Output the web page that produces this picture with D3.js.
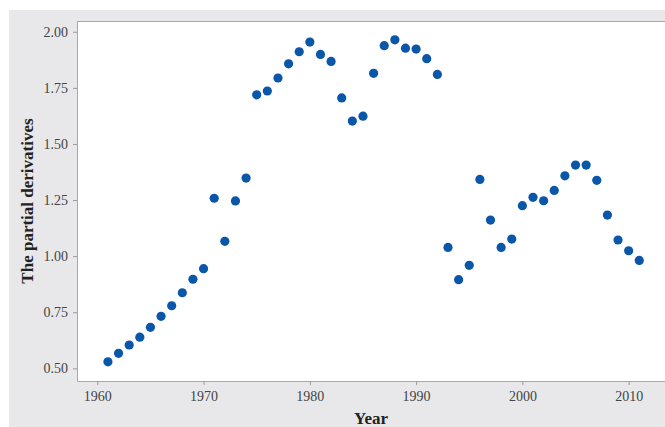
<!DOCTYPE html>
<html>
<head>
<meta charset="utf-8">
<script src="https://cdn.jsdelivr.net/npm/d3@7"></script>
<style>
  body { margin: 0; background: #fff; }
  .tick text { font-family: "Liberation Serif", "DejaVu Serif", serif; font-size: 14px; fill: #444; }
  .tick line { stroke: #9a9a9a; }
  .domain { stroke: #a8a8a8; }
</style>
</head>
<body>
<svg id="chart"></svg>
<script>
// years on the x axis
const years = [1961, 1962, 1963, 1964, 1965, 1966, 1967, 1968, 1969, 1970,
  1971, 1972, 1973, 1974, 1975, 1976, 1977, 1978, 1979, 1980,
  1981, 1982, 1983, 1984, 1985, 1986, 1987, 1988, 1989, 1990,
  1991, 1992, 1993, 1994, 1995, 1996, 1997, 1998, 1999, 2000,
  2001, 2002, 2003, 2004, 2005, 2006, 2007, 2008, 2009, 2010, 2011];

// partial derivative per year
const derivs = [0.529, 0.567, 0.604, 0.639, 0.683, 0.732, 0.779, 0.837, 0.897, 0.944,
  1.258, 1.066, 1.246, 1.348, 1.719, 1.736, 1.794, 1.857, 1.911, 1.954,
  1.899, 1.868, 1.705, 1.602, 1.624, 1.815, 1.938, 1.964, 1.927, 1.923,
  1.880, 1.810, 1.039, 0.895, 0.959, 1.342, 1.161, 1.039, 1.076, 1.225,
  1.262, 1.247, 1.293, 1.358, 1.406, 1.406, 1.338, 1.183, 1.072, 1.024, 0.981];

const xTicks = [1960, 1970, 1980, 1990, 2000, 2010];
const yTicks = [0.50, 0.75, 1.00, 1.25, 1.50, 1.75, 2.00];

const data = years.map((y, i) => ({ year: y, value: derivs[i] }));

const W = 665, H = 427;
const margin = { top: 21, right: 0, bottom: 46, left: 77 };
const width = W - margin.left - margin.right;
const height = H - margin.top - margin.bottom;

const svg = d3.select('#chart')
  .attr('width', W)
  .attr('height', H);

// grey panel behind everything
svg.append('rect')
  .attr('x', 9).attr('y', 10)
  .attr('width', W - 9).attr('height', H - 10)
  .attr('fill', '#e8e8ea');

const chart = svg.append('g')
  .attr('transform', `translate(${margin.left},${margin.top})`);

chart.append('rect')
  .attr('width', width)
  .attr('height', height)
  .attr('fill', '#fff');

// top border
chart.append('line')
  .attr('x1', 0).attr('x2', width)
  .attr('y1', 0.5).attr('y2', 0.5)
  .attr('stroke', '#a8a8a8');

const xScale = d3.scaleLinear()
  .domain([1958.09, 2013.42])
  .range([0, width]);

const yScale = d3.scaleLinear()
  .domain([0.4436, 2.048])
  .range([height, 0]);

const xAxis = d3.axisBottom(xScale)
  .tickValues(xTicks)
  .tickFormat(d3.format('d'))
  .tickSize(4)
  .tickSizeOuter(0)
  .tickPadding(6);

const yAxis = d3.axisLeft(yScale)
  .tickValues(yTicks)
  .tickFormat(d3.format('.2f'))
  .tickSize(4)
  .tickSizeOuter(0)
  .tickPadding(5);

chart.append('g')
  .attr('class', 'xAxis')
  .attr('transform', `translate(0,${height})`)
  .call(xAxis);

chart.append('g')
  .attr('class', 'yAxis')
  .call(yAxis);

chart.selectAll('.dot')
  .data(data)
  .join('circle')
    .attr('class', 'dot')
    .attr('cx', d => xScale(d.year))
    .attr('cy', d => yScale(d.value))
    .attr('r', 4.6)
    .attr('fill', '#0a56a8');

// axis titles
svg.append('text')
  .attr('x', margin.left + width / 2)
  .attr('y', 424)
  .attr('text-anchor', 'middle')
  .attr('font-family', '"Liberation Serif", serif')
  .attr('font-weight', 'bold')
  .style('font-size', '17px')
  .attr('fill', '#222')
  .text('Year');

svg.append('text')
  .attr('transform', 'rotate(-90)')
  .attr('x', -(margin.top + height / 2))
  .attr('y', 33)
  .attr('text-anchor', 'middle')
  .attr('font-family', '"Liberation Serif", serif')
  .attr('font-weight', 'bold')
  .style('font-size', '17px')
  .attr('fill', '#222')
  .text('The partial derivatives');
</script>
</body>
</html>
